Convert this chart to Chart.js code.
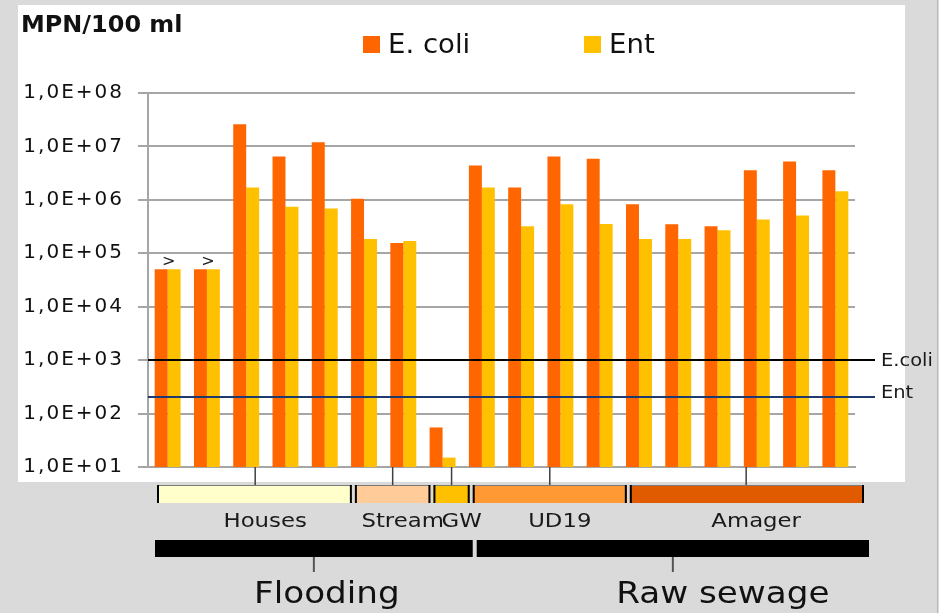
<!DOCTYPE html>
<html>
<head>
<meta charset="utf-8">
<script src="https://cdn.jsdelivr.net/npm/chart.js@4/dist/chart.umd.min.js"></script>
<style>
  html, body { margin: 0; padding: 0; background: #dadada; }
  canvas { display: block; }
</style>
</head>
<body>
<canvas id="c" width="939" height="613"></canvas>
<script>
// ---------------- DATA ----------------
const categories = ['Houses 1','Houses 2','Houses 3','Houses 4','Houses 5',
                    'Stream 1','Stream 2','GW',
                    'UD19 1','UD19 2','UD19 3','UD19 4',
                    'Amager 1','Amager 2','Amager 3','Amager 4','Amager 5','Amager 6'];
const ecoli = [5e4, 5e4, 2.6e7, 6.5e6, 1.2e7, 1.05e6, 1.55e5, 55,
               4.4e6, 1.7e6, 6.5e6, 5.9e6,
               8.3e5, 3.5e5, 3.2e5, 3.6e6, 5.2e6, 3.6e6];
const ent   = [5e4, 5e4, 1.7e6, 7.4e5, 6.9e5, 1.86e5, 1.7e5, 15,
               1.7e6, 3.2e5, 8.3e5, 3.55e5,
               1.86e5, 1.86e5, 2.7e5, 4.3e5, 5.1e5, 1.45e6];
const greaterThan = [true, true, false, false, false, false, false, false,
                     false, false, false, false, false, false, false, false, false, false];
const subGroups = ['Houses', 'Stream', 'GW', 'UD19', 'Amager'];
const subGroupSizes = [5, 2, 1, 4, 6];
const mainGroups = ['Flooding', 'Raw sewage'];
const mainGroupSizes = [8, 10];
const thresholdNames = ['E.coli', 'Ent'];
const thresholdValues = [1000, 200];
const yTickValues = [1e1, 1e2, 1e3, 1e4, 1e5, 1e6, 1e7, 1e8];
const yTitle = 'MPN/100 ml';

// ---------------- STYLE ----------------
const FONT = "'DejaVu Sans', Verdana, sans-serif";
const subGroupColors = ['#ffffcc', '#ffcc99', '#ffc000', '#ff9933', '#e05a00'];
const thresholdColors = ['#000000', '#1f3a6e'];

function drawText(ctx, text, x, y, font, color, align, sx) {
  ctx.save();
  ctx.letterSpacing = '0px';
  ctx.font = font;
  ctx.fillStyle = color;
  ctx.textBaseline = 'alphabetic';
  ctx.textAlign = 'left';
  const w = ctx.measureText(text).width * sx;
  const x0 = align === 'center' ? x - w / 2 : (align === 'right' ? x - w : x);
  ctx.translate(x0, y);
  ctx.scale(sx, 1);
  ctx.fillText(text, 0, 0);
  ctx.restore();
}

function fmtSci(v) {
  const e = Math.round(Math.log10(v));
  return '1,0E+' + (e < 10 ? '0' + e : e);
}

const decorPlugin = {
  id: 'decor',
  beforeDraw(chart) {
    const ctx = chart.ctx;
    ctx.save();
    ctx.fillStyle = '#dadada';
    ctx.fillRect(0, 0, chart.width, chart.height);
    ctx.fillStyle = '#ffffff';
    ctx.fillRect(18, 5, 887, 477);
    ctx.strokeStyle = '#b8b8b8';
    ctx.lineWidth = 1;
    ctx.beginPath(); ctx.moveTo(937.5, 0); ctx.lineTo(937.5, chart.height); ctx.stroke();
    ctx.restore();
    ctx.letterSpacing = '2px';
  },
  afterDatasetsDraw(chart) {
    const ctx = chart.ctx;
    const ca = chart.chartArea;
    const y = chart.scales.y;
    const x = chart.scales.x;
    // threshold lines
    thresholdValues.forEach((v, i) => {
      const py = Math.round(y.getPixelForValue(v));
      ctx.save();
      ctx.strokeStyle = thresholdColors[i];
      ctx.lineWidth = 2;
      ctx.beginPath();
      ctx.moveTo(ca.left, py);
      ctx.lineTo(ca.right + 20, py);
      ctx.stroke();
      ctx.restore();
      drawText(ctx, thresholdNames[i], ca.right + 26, py + (i === 0 ? 6 : 1),
               '18px ' + FONT, '#1a1a1a', 'left', 1.08);
    });
    // ">" markers
    const m0 = chart.getDatasetMeta(0).data;
    const m1 = chart.getDatasetMeta(1).data;
    greaterThan.forEach((g, i) => {
      if (!g) return;
      const top = Math.min(m0[i].y, m1[i].y);
      drawText(ctx, '>', x.getPixelForValue(i) + 1, top - 3, '16px ' + FONT, '#222', 'center', 1.0);
    });
  },
  afterDraw(chart) {
    const ctx = chart.ctx;
    const ca = chart.chartArea;
    const x = chart.scales.x;
    const b = ca.bottom;
    const edge = i => x.getPixelForValue(i - 0.5);

    // sub-group brackets
    let start = 0;
    subGroups.forEach((name, gi) => {
      const end = start + subGroupSizes[gi];
      const x0 = edge(start) + 9 + (gi === 0 ? 0 : 1.5);
      const x1 = edge(end) + 9 - (gi === subGroups.length - 1 ? 0 : 1.5);
      const top = b + 18, h = 18;
      const cx = (edge(start) + edge(end)) / 2 + 9;
      ctx.save();
      // tick from axis to bracket
      ctx.strokeStyle = '#404040';
      ctx.lineWidth = 1.5;
      ctx.beginPath(); ctx.moveTo(cx, b); ctx.lineTo(cx, top); ctx.stroke();
      ctx.fillStyle = subGroupColors[gi];
      ctx.fillRect(x0, top, x1 - x0, h);
      ctx.strokeStyle = '#7a7a7a';
      ctx.lineWidth = 1;
      ctx.beginPath(); ctx.moveTo(x0, top + 0.5); ctx.lineTo(x1, top + 0.5); ctx.stroke();
      ctx.strokeStyle = '#000';
      ctx.lineWidth = 2;
      ctx.beginPath();
      ctx.moveTo(x0 + 1, top); ctx.lineTo(x0 + 1, top + h);
      ctx.moveTo(x1 - 1, top); ctx.lineTo(x1 - 1, top + h);
      ctx.stroke();
      ctx.restore();
      drawText(ctx, name, cx + 10, b + 60, '19px ' + FONT, '#1a1a1a', 'center', 1.2);
      start = end;
    });

    // main groups
    start = 0;
    const nCat = categories.length;
    mainGroups.forEach((name, gi) => {
      const end = start + mainGroupSizes[gi];
      const sOff = start === 0 ? 7 : 12.5 + 2;
      const eOff = end === nCat ? 14 : 12.5 - 2;
      const x0 = edge(start) + sOff;
      const x1 = edge(end) + eOff;
      const top = b + 73, h = 17;
      const cx = (x0 + x1) / 2;
      ctx.save();
      ctx.fillStyle = '#000';
      ctx.fillRect(x0, top, x1 - x0, h);
      ctx.strokeStyle = '#555';
      ctx.lineWidth = 2;
      ctx.beginPath(); ctx.moveTo(cx, top + h); ctx.lineTo(cx, top + h + 15); ctx.stroke();
      ctx.restore();
      drawText(ctx, name, cx + (gi === 0 ? 13 : 50), b + 136, '30px ' + FONT, '#111', 'center', 1.14);
      start = end;
    });

    // legend
    chart.data.datasets.forEach((ds, i) => {
      const bx = ca.left + 215 + i * 221;
      ctx.save();
      ctx.fillStyle = ds.backgroundColor;
      ctx.fillRect(bx, 36, 17, 17);
      ctx.restore();
      drawText(ctx, ds.label, bx + 25, 53, '26px ' + FONT, '#111', 'left', 1.06);
    });

    // y title
    drawText(ctx, yTitle, 21, 32, 'bold 23px ' + FONT, '#111', 'left', 1.04);
  }
};

new Chart(document.getElementById('c'), {
  type: 'bar',
  data: {
    labels: categories,
    datasets: [
      { label: 'E. coli', data: ecoli, backgroundColor: '#ff6600', borderWidth: 0 },
      { label: 'Ent', data: ent, backgroundColor: '#ffc000', borderWidth: 0 }
    ]
  },
  options: {
    responsive: false,
    devicePixelRatio: 1,
    animation: false,
    layout: { padding: { left: 0, right: 84, top: 93, bottom: 0 } },
    datasets: { bar: { categoryPercentage: 0.66, barPercentage: 1.0 } },
    plugins: { legend: { display: false }, tooltip: { enabled: false } },
    scales: {
      x: {
        type: 'category',
        grid: { display: false },
        border: { display: true, color: '#a6a6a6', width: 2 },
        ticks: { display: false },
        afterFit(s) { s.height = 146; }
      },
      y: {
        type: 'logarithmic',
        min: 10,
        max: 1e8,
        afterBuildTicks(s) { s.ticks = yTickValues.map(v => ({ value: v })); },
        afterFit(s) { s.width = 148; },
        grid: { color: '#a6a6a6', lineWidth: 2, drawTicks: true, tickLength: 10 },
        border: { display: true, color: '#a6a6a6', width: 2 },
        ticks: {
          padding: 14,
          color: '#111',
          font: { family: FONT, size: 20 },
          callback: v => fmtSci(v)
        }
      }
    }
  },
  plugins: [decorPlugin]
});
</script>
</body>
</html>
